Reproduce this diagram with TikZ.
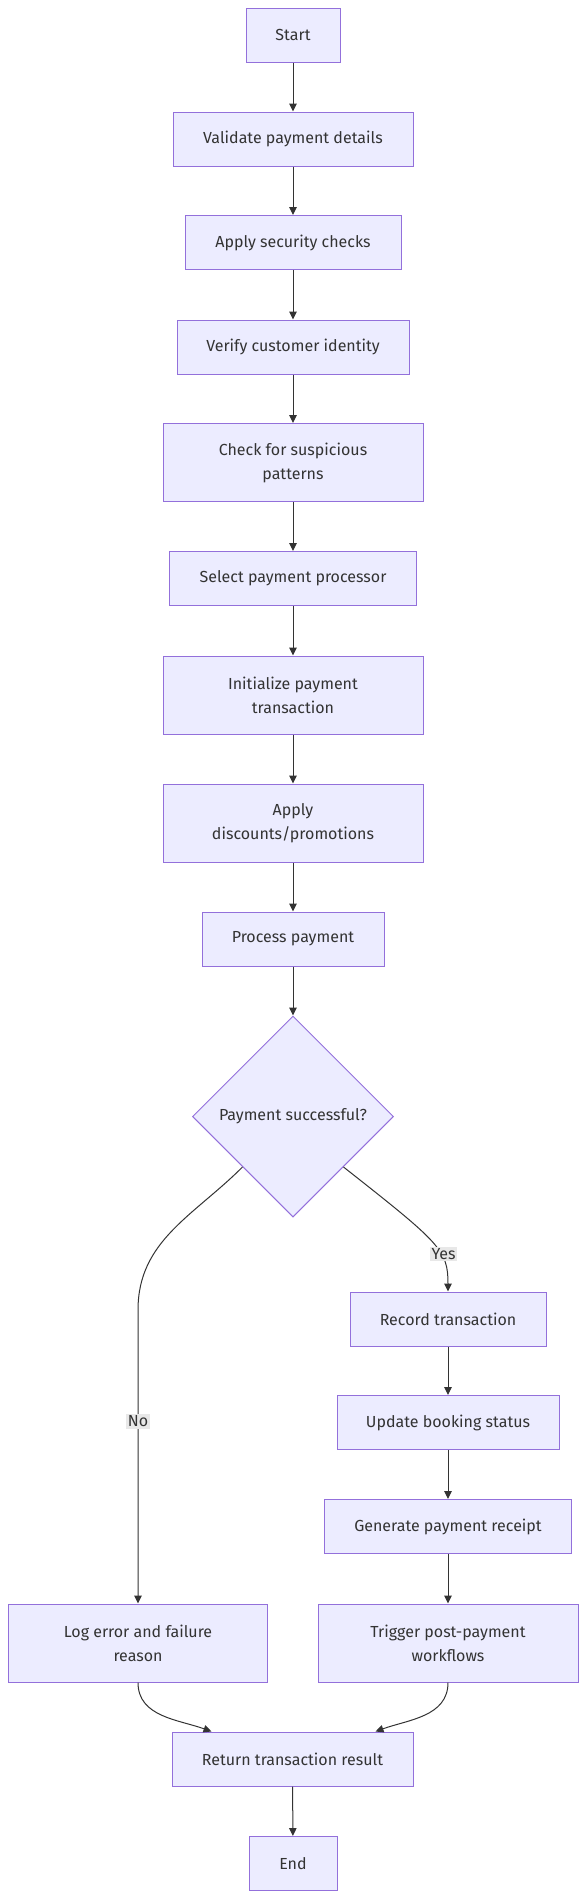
\documentclass[tikz,border=0pt]{standalone}
\usepackage{fontspec}
\setmainfont{Fira Sans}
\usepackage{tikz}
\usetikzlibrary{arrows.meta,shapes.geometric}
\usepackage{xcolor}
\definecolor{boxfill}{HTML}{ECECFF}
\definecolor{boxline}{HTML}{9370DB}
\definecolor{dark}{HTML}{333333}
\definecolor{labelbg}{HTML}{E8E8E8}
\tikzset{
  box/.style={draw=boxline, line width=1pt, fill=boxfill, text=dark, align=center, minimum height=54pt, inner sep=0pt, font=\fontsize{16}{24}\selectfont},
  tallbox/.style={box, minimum height=78pt},
  decision/.style={box, diamond, aspect=1, minimum width=201pt, minimum height=201pt},
  arrow/.style={-{Triangle[length=8pt,width=7.5pt]}, line width=1pt, draw=dark},
  edgelabel/.style={fill=labelbg, text=dark, inner sep=1.5pt, font=\fontsize{16}{18}\selectfont}
}

\begin{document}
\begin{tikzpicture}[x=1pt, y=1pt]
  \useasboundingbox[fill=white] (0,0) rectangle (586,-1898);

  % main column
  \node[box, minimum width=94pt] (start) at (293,-35) {Start};
  \node[box, minimum width=240pt] (validate) at (293,-139) {Validate payment details};
  \node[box, minimum width=216pt] (security) at (293,-242.5) {Apply security checks};
  \node[box, minimum width=232pt] (verify) at (293,-347) {Verify customer identity};
  \node[tallbox, minimum width=260pt] (suspicious) at (293,-462.5) {Check for suspicious\\patterns};
  \node[box, minimum width=247pt] (processor) at (293,-578.5) {Select payment processor};
  \node[tallbox, minimum width=260pt] (init) at (293,-695) {Initialize payment\\transaction};
  \node[tallbox, minimum width=260pt] (discounts) at (293,-823) {Apply\\discounts/promotions};
  \node[box, minimum width=182pt] (process) at (293,-939) {Process payment};
  \node[decision] (check) at (293,-1116.5) {Payment successful?};

  % success branch
  \node[box, minimum width=196pt] (record) at (448,-1319) {Record transaction};
  \node[box, minimum width=222pt] (booking) at (448,-1422.5) {Update booking status};
  \node[box, minimum width=247pt] (receipt) at (448,-1526.5) {Generate payment receipt};
  \node[tallbox, minimum width=260pt] (trigger) at (448,-1643) {Trigger post-payment\\workflows};

  % failure branch
  \node[tallbox, minimum width=259pt] (logerr) at (138,-1643) {Log error and failure\\reason};

  % closing nodes
  \node[box, minimum width=241pt] (result) at (292.5,-1759) {Return transaction result};
  \node[box, minimum width=88pt] (finish) at (293,-1863.5) {End};

  % straight arrows down the main column
  \draw[arrow] (start) -- (validate);
  \draw[arrow] (validate) -- (security);
  \draw[arrow] (security) -- (verify);
  \draw[arrow] (verify) -- (suspicious);
  \draw[arrow] (suspicious) -- (processor);
  \draw[arrow] (processor) -- (init);
  \draw[arrow] (init) -- (discounts);
  \draw[arrow] (discounts) -- (process);
  \draw[arrow] (process) -- (check);

  % decision branches
  \coordinate (nobend) at (138,-1310);
  \draw[arrow] (check.south west) to[out=-135, in=90] (nobend) -- node[edgelabel, pos=0.38] {No} (logerr.north);
  \draw[arrow] (check.south east) .. controls (440,-1243) and (448,-1250) .. node[edgelabel, pos=0.63, xshift=3pt] {Yes} (record.north);

  \draw[arrow] (record) -- (booking);
  \draw[arrow] (booking) -- (receipt);
  \draw[arrow] (receipt) -- (trigger);

  % merge into result
  \draw[arrow] (logerr.south) to[out=-90, in=160] ([xshift=40pt]result.north west);
  \draw[arrow] (trigger.south) to[out=-90, in=20] ([xshift=-38pt]result.north east);
  \draw[arrow] (result) -- (finish);
\end{tikzpicture}
\end{document}
